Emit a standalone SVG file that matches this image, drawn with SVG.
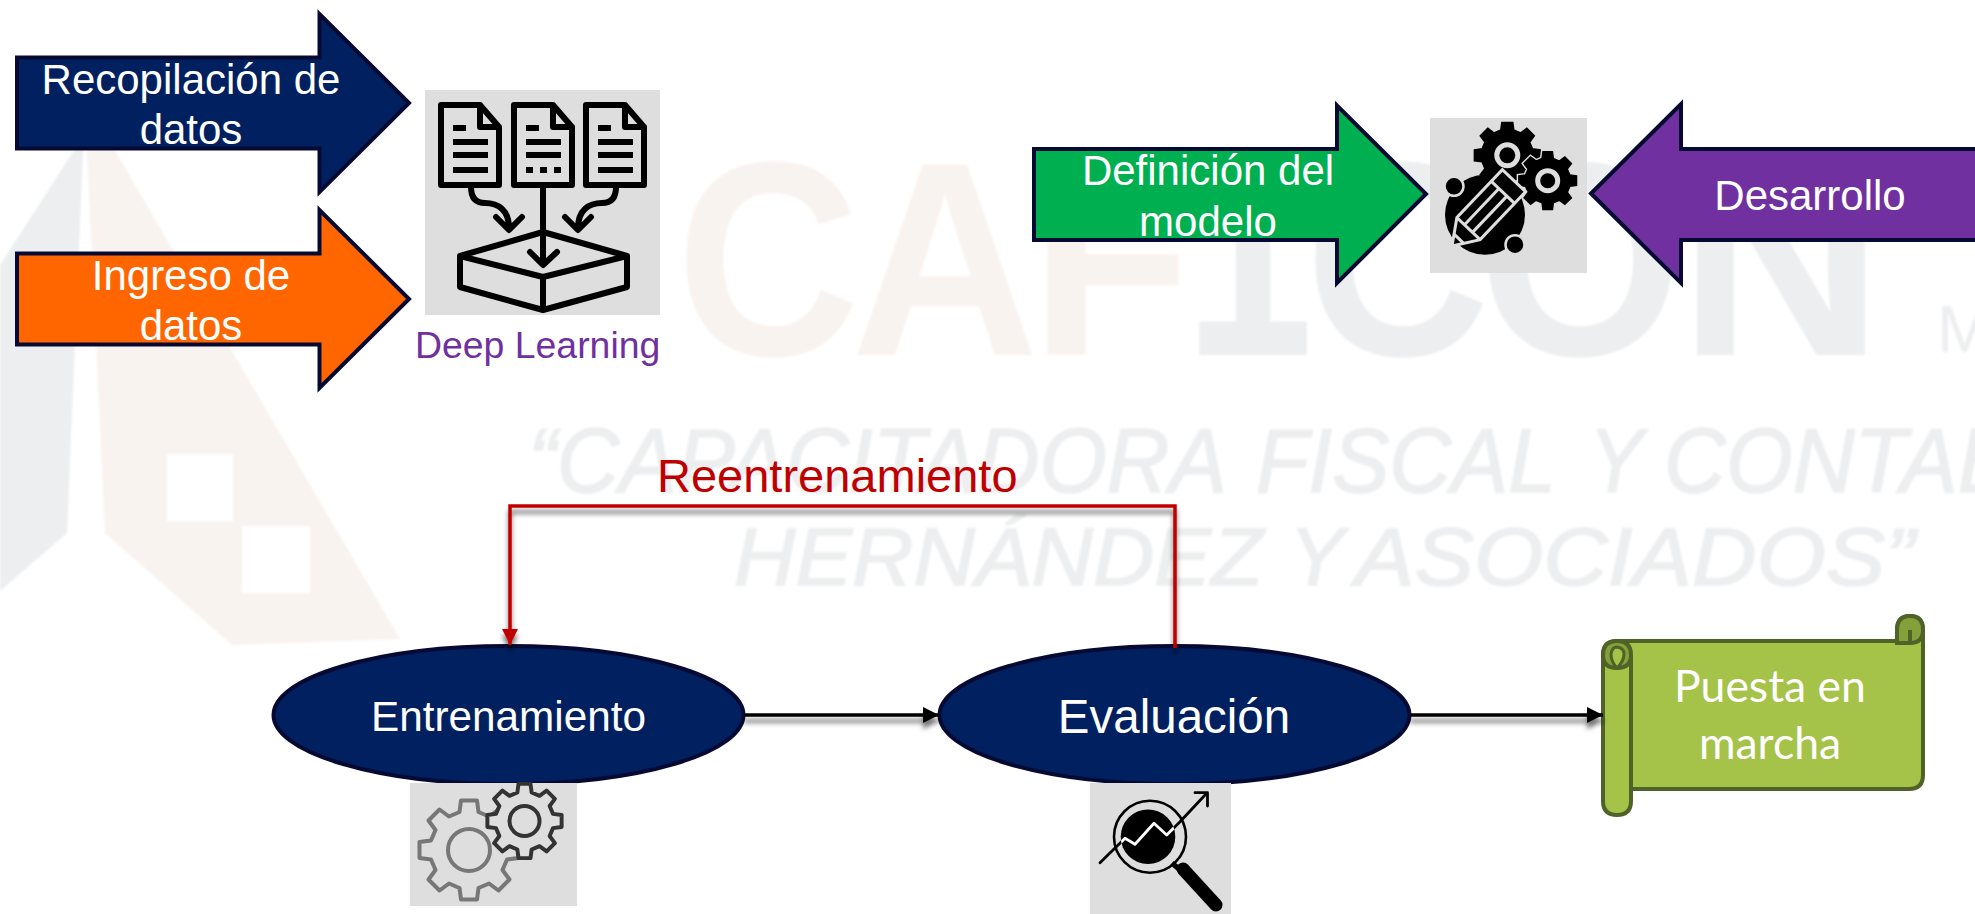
<svg xmlns="http://www.w3.org/2000/svg" width="1975" height="914" viewBox="0 0 1975 914">
<style>
text{font-family:"Liberation Sans",Arial,sans-serif}
.lbl{fill:#fff;font-size:42px;text-anchor:middle}
.arrow{stroke:#060a32;stroke-width:4;stroke-linejoin:miter;stroke-miterlimit:10}
.box{fill:#dedede}
.ico{fill:none;stroke:#000;stroke-width:6;stroke-linejoin:round;stroke-linecap:round}
.bar{stroke:#000;stroke-width:6}
.wg{fill:#edeeef}
.wp{fill:#f9f3ef}
.wb{font-weight:700;font-size:277px}
.wi{font-style:italic;stroke:#edeeef;stroke-width:1.6;font-size:90px}
.wj{font-size:82px}
.oval{fill:#002060;stroke:#060a32;stroke-width:4}
.ring{fill:#000;stroke:#dedede}
.peng{stroke:#dedede;stroke-width:3;fill:none}
</style>
<defs>
<path id="gear" d="M76-19 99-16 99 16 76 19 67 40 81 59 59 81 40 67 19 76 16 99-16 99-19 76-40 67-59 81-81 59-67 40-76 19-99 16-99-16-76-19-67-40-81-59-59-81-40-67-19-76-16-99 16-99 19-76 40-67 59-81 81-59 67-40Z"/>
<path id="doc" d="M0 0H39L58 22V80H0Z M39 0V22H58"/>
<marker id="headRed" markerUnits="userSpaceOnUse" markerWidth="18" markerHeight="18" refX="16" refY="8" orient="auto"><path d="M0 0 16 8 0 16Z" fill="#c00000"/></marker>
<marker id="headBlack" markerUnits="userSpaceOnUse" markerWidth="18" markerHeight="18" refX="16" refY="8" orient="auto"><path d="M0 0 16 8 0 16Z" fill="#000"/></marker>
<filter id="shadow" x="0" y="0" width="1975" height="914" filterUnits="userSpaceOnUse"><feDropShadow dx="0" dy="6" stdDeviation="2.5" flood-color="#000" flood-opacity=".55"/></filter>
<filter id="soft" x="0" y="0" width="1975" height="914" filterUnits="userSpaceOnUse"><feGaussianBlur stdDeviation="1"/></filter>
<clipPath id="lens"><circle cx="1148" cy="836.7" r="27.3"/></clipPath>
</defs>

<rect width="1975" height="914" fill="#fff"/>

<g id="watermark" filter="url(#soft)">
<path class="wg" d="M0 265 73 152 100 125 83 152 67 533 0 591Z"/>
<path class="wp" fill-rule="evenodd" d="M87 152 100 125 400 639 232 645 105 533Z M167 454H233V521H167Z M242 526H310V593H242Z"/>
<text class="wb wp" x="676" y="355" textLength="184" lengthAdjust="spacingAndGlyphs">C</text>
<text class="wb wp" x="851" y="355" textLength="188" lengthAdjust="spacingAndGlyphs">A</text>
<text class="wb wp" x="1030" y="355" textLength="161" lengthAdjust="spacingAndGlyphs">F</text>
<text class="wb wg" x="1181" y="355" textLength="144" lengthAdjust="spacingAndGlyphs" style="font-family:'Liberation Mono',monospace;font-size:300px">I</text>
<text class="wb wg" x="1305" y="355" textLength="185" lengthAdjust="spacingAndGlyphs">C</text>
<text class="wb wg" x="1478" y="355" textLength="205" lengthAdjust="spacingAndGlyphs">O</text>
<text class="wb wg" x="1678" y="355" textLength="206" lengthAdjust="spacingAndGlyphs">N</text>
<text class="wg" x="1937" y="352" font-size="66">M</text>
<text class="wi wg" x="528" y="492" textLength="699" lengthAdjust="spacingAndGlyphs">“CAPACITADORA</text>
<text class="wi wg" x="1256" y="492" textLength="300" lengthAdjust="spacingAndGlyphs">FISCAL</text>
<text class="wi wg" x="1589" y="492" textLength="54" lengthAdjust="spacingAndGlyphs">Y</text>
<text class="wi wg" x="1664" y="492" textLength="351" lengthAdjust="spacingAndGlyphs">CONTAB</text>
<text class="wi wj wg" x="734" y="585" textLength="529" lengthAdjust="spacingAndGlyphs">HERNÁNDEZ</text>
<text class="wi wj wg" x="1289" y="585" textLength="55" lengthAdjust="spacingAndGlyphs">Y</text>
<text class="wi wj wg" x="1355" y="585" textLength="560" lengthAdjust="spacingAndGlyphs">ASOCIADOS”</text>
</g>

<g id="node-recopilacion">
<path class="arrow" fill="#002060" d="M17 57.5H319.5V14L409 103 319.5 192V148.5H17Z"/>
<text class="lbl" x="191" y="94">Recopilación de</text>
<text class="lbl" x="191" y="144">datos</text>
</g>
<g id="node-ingreso">
<path class="arrow" fill="#ff6600" d="M17 253.5H319.5V210L409 299 319.5 388V344.5H17Z"/>
<text class="lbl" x="191" y="290">Ingreso de</text>
<text class="lbl" x="191" y="340">datos</text>
</g>
<g id="node-deep-learning">
<rect class="box" x="425" y="90" width="235" height="225"/>
<g class="ico">
<use href="#doc" transform="translate(441 105)"/>
<use href="#doc" transform="translate(514 105)"/>
<use href="#doc" transform="translate(586 105)"/>
<path d="M471 187C471 200 478 203 485 203 498 203 509 210 509 228M496 217 509 230 522 217"/>
<path d="M616 187C616 200 609 203 602 203 589 203 578 210 578 228M565 217 578 230 591 217"/>
<path d="M543 185V263M530 252 543 265 557 252"/>
<path d="M543 232 627 256 543 277 460 256ZM460 256V287L543 310 627 287V256M543 277V310"/>
</g>
<g class="bar">
<path d="M453 128H466M453 142H488M453 155H488M453 170H488"/>
<path d="M526 128H539M526 142H561M526 155H561"/>
<path d="M526 170H561" stroke-dasharray="7 7"/>
<path d="M598 128H611M598 142H633M598 155H633M598 170H633"/>
</g>
<text x="415" y="358" font-size="37.4" fill="#7030a0">Deep Learning</text>
</g>

<g id="node-definicion">
<path class="arrow" fill="#00b050" d="M1034 149H1337V105.5L1426 194 1337 283V240H1034Z"/>
<text class="lbl" x="1208" y="185">Definición del</text>
<text class="lbl" x="1208" y="236">modelo</text>
</g>
<g id="node-diseno-icono">
<rect class="box" x="1430" y="118" width="157" height="155"/>
<use href="#gear" transform="translate(1507.3 155.3) scale(.33)" stroke="#000" stroke-width="6"/>
<circle class="ring" cx="1507.3" cy="155.3" r="10.5" stroke-width="5"/>
<use href="#gear" transform="translate(1547.7 180.7) scale(.29)" stroke="#dedede" stroke-width="16"/>
<use href="#gear" transform="translate(1547.7 180.7) scale(.29)" stroke="#000" stroke-width="6"/>
<circle class="ring" cx="1547.7" cy="180.7" r="10" stroke-width="5"/>
<circle cx="1485" cy="214.7" r="40"/>
<circle class="ring" cx="1454" cy="186.3" r="9.5" stroke-width="2.5"/>
<circle class="ring" cx="1515" cy="244.7" r="9.5" stroke-width="2.5"/>
<g transform="translate(1452 246) rotate(-46.5)">
<path class="peng" style="fill:#000" d="M0 0 24-16H90V16H24Z"/>
<path class="peng" d="M10-7V7M24-16V16M74-16V16M24-5.5H74M24 5.5H74"/>
</g>
</g>
<g id="node-desarrollo">
<path class="arrow" fill="#7030a0" d="M1985 149H1681V104L1591 193.5 1681 283V240H1985Z"/>
<text class="lbl" x="1810" y="210">Desarrollo</text>
</g>

<g id="node-entrenamiento">
<ellipse class="oval" cx="508.5" cy="715" rx="235" ry="69"/>
<text class="lbl" x="508.5" y="731" style="font-size:42.3px">Entrenamiento</text>
</g>
<g id="icon-entrenamiento">
<rect class="box" x="410" y="783" width="167" height="123"/>
<use href="#gear" transform="translate(469 850) scale(.5)" fill="#dedede" stroke="#777" stroke-width="8" stroke-linejoin="round"/>
<circle cx="469" cy="850" r="21" fill="none" stroke="#777" stroke-width="4"/>
<use href="#gear" transform="translate(524.5 821) scale(.375)" fill="#dedede" stroke="#333" stroke-width="10.5" stroke-linejoin="round"/>
<circle cx="524.5" cy="821" r="15" fill="none" stroke="#333" stroke-width="4"/>
</g>

<g id="node-evaluacion">
<ellipse class="oval" cx="1174.5" cy="715" rx="235" ry="69"/>
<text x="1174" y="733" font-size="47.5" fill="#fff" text-anchor="middle">Evaluación</text>
</g>
<g id="icon-evaluacion">
<rect class="box" x="1090" y="783" width="141" height="131"/>
<circle cx="1148" cy="836.7" r="27.3"/>
<circle cx="1150" cy="836.7" r="36" fill="none" stroke="#000" stroke-width="2.6"/>
<g fill="none" stroke-linecap="round" stroke-linejoin="round" stroke-width="2.8">
<path stroke="#000" d="M1100 862.7 1125 838.3 1135 844.3 1154 823.3 1166.7 835 1180 821.7 1206.7 793.3M1195 792.7H1207.5V806"/>
<path stroke="#fff" clip-path="url(#lens)" d="M1100 862.7 1125 838.3 1135 844.3 1154 823.3 1166.7 835 1180 821.7"/>
</g>
<path d="M1172 863 1180 870" stroke="#000" stroke-width="5" fill="none"/>
<path d="M1183 869 1216 905" stroke="#000" stroke-width="13" stroke-linecap="round" fill="none"/>
</g>

<g id="node-puesta">
<path fill="#a5c249" stroke="#4f6228" stroke-width="4" stroke-linejoin="round" d="M1603 655Q1603 641 1617 641H1897V630Q1897 616 1910 616 1923 616 1923 630V775Q1923 789 1909 789H1631V801Q1631 815 1617 815 1603 815 1603 801Z"/>
<path fill="#84a03b" stroke="#4f6228" stroke-width="4" d="M1897 630Q1897 616 1910 616 1923 616 1923 630 1923 643 1910 643H1897Z"/>
<path fill="none" stroke="#4f6228" stroke-width="4" stroke-linejoin="round" d="M1910 643V630"/>
<path fill="#84a03b" stroke="#4f6228" stroke-width="4" d="M1603 655Q1603 641 1617 641 1631 641 1631 655 1631 668 1617 668 1603 668 1603 655Z"/>
<path fill="#a5c249" stroke="#4f6228" stroke-width="3" d="M1617 668Q1611 662 1611 654 1612 647 1617 647 1624 648 1624 654 1624 661 1617 668Z"/>
<path fill="none" stroke="#4f6228" stroke-width="4" d="M1631 655V789"/>
<text x="1770" y="702" font-size="44.5" fill="#fff" text-anchor="middle" style="font-family:Lato,sans-serif">Puesta en</text>
<text x="1770" y="759" font-size="44.5" fill="#fff" text-anchor="middle" style="font-family:Lato,sans-serif">marcha</text>
</g>

<g id="connectors" fill="none">
<path d="M1175 648V506H510V645" stroke="#c00000" stroke-width="3.5" marker-end="url(#headRed)" filter="url(#shadow)"/>
<path d="M744 715H939" stroke="#000" stroke-width="3.5" marker-end="url(#headBlack)" filter="url(#shadow)"/>
<path d="M1410 715H1603" stroke="#000" stroke-width="3.5" marker-end="url(#headBlack)" filter="url(#shadow)"/>
</g>
<text id="label-reentrenamiento" x="657" y="492" font-size="47" fill="#c00000">Reentrenamiento</text>
</svg>
